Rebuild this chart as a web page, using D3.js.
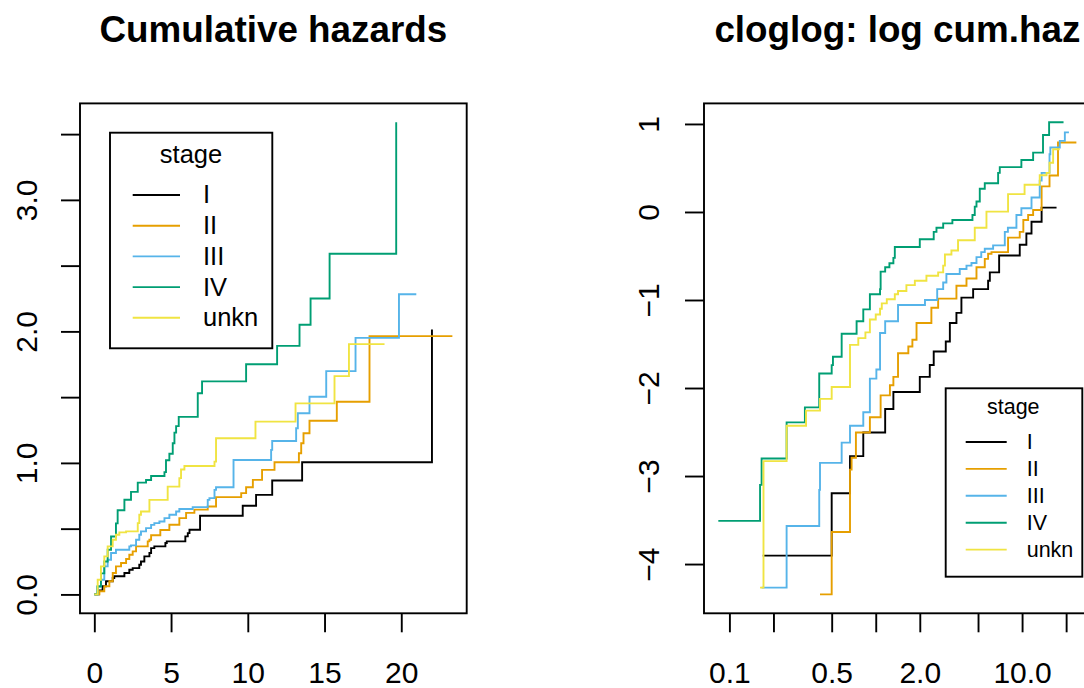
<!DOCTYPE html>
<html>
<head>
<meta charset="utf-8">
<script src="https://cdn.jsdelivr.net/npm/d3@7"></script>
<style>
  body { margin: 0; background: #fff; }
  svg { display: block; font-family: "Liberation Sans", Arial, Helvetica, sans-serif; }
</style>
</head>
<body>
<div id="chart"></div>
<script>
const stages = ["I", "II", "III", "IV", "unkn"];
const stageColors = ["#000000", "#E69F00", "#56B4E9", "#009E73", "#F0E442"];

// left panel: cumulative hazard steps [time, H]
const chI = [[0,0],[0.3,0.03],[0.54,0.062],[0.76,0.10],[1.2,0.125],[1.3,0.138],[1.96,0.163],[2.28,0.188],[2.5,0.20],[2.93,0.226],[3.04,0.25],[3.26,0.289],[3.59,0.315],[3.7,0.352],[3.91,0.365],[4.63,0.391],[4.72,0.403],[5.93,0.441],[6.09,0.466],[6.2,0.492],[6.89,0.598],[9.67,0.674],[10.54,0.757],[11.59,0.866],[13.54,1.005],[22.0,2.014]];
const chII = [[0,0],[0.33,0.024],[0.65,0.062],[0.98,0.10],[1.2,0.163],[1.41,0.213],[1.74,0.239],[2.07,0.269],[2.28,0.302],[2.5,0.327],[2.72,0.365],[3.48,0.403],[3.59,0.416],[3.7,0.45],[4.3,0.49],[4.89,0.53],[5.54,0.58],[5.98,0.62],[6.52,0.645],[7.39,0.669],[7.93,0.74],[9.57,0.77],[9.89,0.815],[10.33,0.871],[10.93,0.947],[11.74,1.005],[13.33,1.073],[13.48,1.149],[13.63,1.225],[14.02,1.321],[15.8,1.465],[17.93,1.964]];
const chIII = [[0,0],[0.22,0.062],[0.43,0.112],[0.65,0.213],[0.87,0.264],[1.09,0.315],[1.41,0.34],[2.28,0.365],[2.39,0.373],[2.72,0.416],[2.93,0.454],[3.04,0.479],[3.37,0.504],[3.7,0.529],[3.91,0.542],[4.24,0.555],[4.57,0.58],[4.89,0.606],[5.33,0.631],[5.54,0.649],[6.41,0.664],[7.39,0.719],[7.5,0.732],[7.83,0.795],[7.93,0.815],[9.07,1.022],[11.52,1.099],[11.59,1.167],[13.15,1.263],[13.26,1.377],[14.02,1.503],[15.11,1.698],[17.02,1.951],[19.85,2.282]];
const chIV = [[0,0],[0.2,0.06],[0.43,0.16],[0.65,0.25],[0.87,0.34],[1.09,0.44],[1.41,0.54],[1.52,0.64],[1.96,0.72],[2.39,0.78],[2.83,0.85],[3.37,0.87],[3.7,0.9],[4.57,0.93],[4.67,1.02],[4.89,1.07],[5.11,1.15],[5.22,1.23],[5.33,1.28],[5.5,1.35],[6.74,1.53],[7.02,1.62],[9.89,1.75],[11.91,1.89],[13.37,2.05],[14.09,2.25],[15.33,2.59],[19.67,3.59]];
const chUnkn = [[0,0],[0.22,0.112],[0.43,0.213],[0.65,0.289],[0.87,0.365],[1.2,0.416],[1.41,0.454],[1.63,0.472],[2.07,0.479],[2.83,0.542],[2.93,0.606],[3.04,0.631],[3.59,0.719],[4.78,0.82],[5.54,0.884],[5.65,0.95],[5.87,0.977],[7.83,1.01],[7.93,1.187],[10.5,1.314],[13.11,1.453],[15.65,1.66],[16.59,1.903]];
const chEnd = [22.0, 23.33, 20.98, 19.67, 18.91];

// right panel: log cumulative hazard steps [time, log H]
const llI = [[0.169,-3.904],[0.50,-3.195],[0.667,-2.774],[0.822,-2.506],[1.16,-2.238],[1.32,-2.046],[2.00,-1.874],[2.34,-1.739],[2.49,-1.586],[3.01,-1.471],[3.21,-1.261],[3.56,-1.146],[3.85,-0.973],[4.63,-0.877],[5.86,-0.782],[6.02,-0.686],[6.97,-0.494],[9.64,-0.372],[10.7,-0.245],[11.6,-0.111],[13.6,0.050]];
const llII = [[0.416,-4.345],[0.50,-3.636],[0.667,-2.927],[0.684,-2.793],[0.732,-2.506],[0.912,-2.333],[1.08,-2.084],[1.25,-1.969],[1.32,-1.874],[1.42,-1.605],[1.67,-1.529],[1.78,-1.452],[1.90,-1.261],[2.40,-1.088],[2.67,-0.985],[3.56,-0.839],[4.17,-0.755],[4.88,-0.628],[5.56,-0.533],[5.86,-0.475],[6.18,-0.456],[8.02,-0.291],[9.64,-0.226],[10.2,-0.092],[11.0,-0.034],[11.9,0.023],[13.6,0.291],[15.4,0.414],[17.6,0.79]];
const llIII = [[0.166,-4.268],[0.246,-3.567],[0.411,-3.157],[0.416,-2.851],[0.585,-2.621],[0.667,-2.429],[0.822,-2.276],[0.912,-1.893],[1.01,-1.789],[1.07,-1.375],[1.16,-1.241],[1.42,-1.057],[2.17,-1.0],[2.63,-0.877],[2.89,-0.801],[3.04,-0.705],[3.75,-0.648],[4.17,-0.609],[4.51,-0.579],[4.88,-0.513],[5.26,-0.456],[5.56,-0.418],[6.34,-0.379],[7.62,-0.226],[8.0,-0.18],[9.15,-0.034],[9.89,0.042],[11.6,0.165],[13.2,0.356],[13.6,0.444],[15.4,0.655],[15.6,0.732],[18.1,0.808],[19.6,0.904]];
const llIV = [[0.084,-3.51],[0.162,-3.10],[0.166,-2.80],[0.246,-2.39],[0.328,-2.22],[0.411,-1.835],[0.50,-1.74],[0.51,-1.644],[0.585,-1.383],[0.74,-1.241],[0.822,-1.107],[0.912,-0.935],[1.07,-0.877],[1.08,-0.678],[1.16,-0.628],[1.24,-0.582],[1.32,-0.521],[1.35,-0.398],[2.00,-0.31],[2.49,-0.226],[2.6,-0.18],[2.89,-0.13],[3.34,-0.092],[4.58,-0.034],[4.75,0.061],[4.88,0.119],[5.14,0.264],[5.56,0.326],[6.86,0.444],[7.04,0.51],[9.89,0.59],[11.9,0.674],[13.9,0.874],[15.3,1.019]];
const llUnkn = [[0.162,-4.268],[0.171,-2.831],[0.246,-2.429],[0.334,-2.257],[0.416,-2.123],[0.50,-1.989],[0.667,-1.51],[0.76,-1.433],[0.85,-1.368],[0.912,-1.222],[1.0,-1.165],[1.07,-1.10],[1.10,-1.038],[1.19,-0.992],[1.35,-0.935],[1.42,-0.897],[1.62,-0.831],[1.85,-0.782],[2.22,-0.724],[2.67,-0.686],[2.89,-0.609],[2.97,-0.483],[3.29,-0.437],[3.65,-0.322],[4.75,-0.18],[5.71,0.004],[8.02,0.203],[10.4,0.31],[13.2,0.418],[14.7,0.444],[15.4,0.559],[16.3,0.713]];
const llEnd = [17.2, 23.5, 20.9, 19.2, 18.1];

const leftXTicks = [0, 5, 10, 15, 20];
const leftYTicks = [0, 0.5, 1, 1.5, 2, 2.5, 3, 3.5];
const leftYLabels = [0, 1, 2, 3];
const rightXTicks = [0.1, 0.2, 0.5, 1, 2, 5, 10, 20];
const rightXLabels = [0.1, 0.5, 2, 10];
const rightYTicks = [-4, -3, -2, -1, 0, 1];

const W = 1084, H = 688;
const lw = 1.9;
const plotTop = 103.4, plotBottom = 613.3;

const svg = d3.select("#chart").append("svg")
    .attr("width", W)
    .attr("height", H);

svg.append("rect").attr("width", W).attr("height", H).attr("fill", "#fff");

// R style 4% padding around data range
function padded(lo, hi) {
    const d = hi - lo;
    return [lo - 0.04 * d, hi + 0.04 * d];
}

function withEnd(steps, end) {
    const last = steps[steps.length - 1];
    return steps.concat([[end, last[1]]]);
}

function drawPanel(opt) {
    const g = svg.append("g");
    const line = d3.line()
        .x(d => opt.x(d[0]))
        .y(d => opt.y(d[1]))
        .curve(d3.curveStepAfter);
    const r = opt.x.range();

    const clip = "clip" + opt.id;
    svg.append("clipPath").attr("id", clip)
        .append("rect")
        .attr("x", r[0]).attr("y", plotTop)
        .attr("width", r[1] - r[0])
        .attr("height", plotBottom - plotTop);

    g.append("g").attr("clip-path", `url(#${clip})`)
        .selectAll("path")
        .data(opt.series)
        .join("path")
        .attr("d", (s, i) => line(withEnd(s, opt.ends[i])))
        .attr("fill", "none")
        .attr("stroke", (s, i) => stageColors[i])
        .attr("stroke-width", lw);

    // box
    g.append("rect")
        .attr("x", r[0]).attr("y", plotTop)
        .attr("width", r[1] - r[0])
        .attr("height", plotBottom - plotTop)
        .attr("fill", "none").attr("stroke", "#000").attr("stroke-width", lw);

    // x axis
    const xa = g.append("g")
        .attr("transform", `translate(0,${plotBottom})`)
        .call(d3.axisBottom(opt.x).tickValues(opt.xTicks).tickSizeOuter(0).tickSize(19)
            .tickFormat(d => opt.xLabels.includes(d) ? opt.xFmt(d) : ""));
    xa.select(".domain").remove();
    xa.selectAll("line").attr("stroke", "#000").attr("stroke-width", lw);
    xa.selectAll("text")
        .attr("y", 70).attr("dy", 0)
        .attr("font-size", 30).attr("font-family", null).attr("fill", "#000");

    // y axis
    const ya = g.append("g")
        .attr("transform", `translate(${r[0]},0)`)
        .call(d3.axisLeft(opt.y).tickValues(opt.yTicks).tickSizeOuter(0).tickSize(19)
            .tickFormat(d => opt.yLabels.includes(d) ? opt.yFmt(d) : ""));
    ya.select(".domain").remove();
    ya.selectAll("line").attr("stroke", "#000").attr("stroke-width", lw);
    ya.selectAll("text")
        .attr("x", 0).attr("dy", 0)
        .attr("transform", `translate(${-opt.yLabOff},0) rotate(-90)`)
        .attr("text-anchor", "middle")
        .attr("font-size", 30).attr("font-family", null).attr("fill", "#000");

    // title
    g.append("text")
        .attr("x", (r[0] + r[1]) / 2).attr("y", 41.7)
        .attr("text-anchor", "middle")
        .attr("font-size", 36.8).attr("font-weight", "bold")
        .text(opt.title);

    // legend
    const L = opt.legend;
    const lg = g.append("g");
    lg.append("rect")
        .attr("x", L.x0).attr("y", L.y0)
        .attr("width", L.x1 - L.x0).attr("height", L.y1 - L.y0)
        .attr("fill", "#fff").attr("stroke", "#000").attr("stroke-width", lw);
    lg.append("text")
        .attr("x", L.titleX).attr("y", L.titleY)
        .attr("text-anchor", "middle").attr("font-size", L.fs)
        .text("stage");
    const items = lg.selectAll("g.item").data(stages).join("g")
        .attr("class", "item")
        .attr("transform", (d, i) => `translate(0,${L.firstY + i * L.step})`);
    items.append("line")
        .attr("x1", L.lx0).attr("x2", L.lx1)
        .attr("stroke", (d, i) => stageColors[i]).attr("stroke-width", lw);
    items.append("text")
        .attr("x", L.tx).attr("y", L.fs * 0.33)
        .attr("font-size", L.fs)
        .text(d => d);
}

const allCh = [chI, chII, chIII, chIV, chUnkn];
const chTmax = d3.max(chEnd);
const chHmax = d3.max(allCh, s => d3.max(s, d => d[1]));
const xLeft = d3.scaleLinear().domain(padded(0, chTmax)).range([80, 466.7]);
const yLeft = d3.scaleLinear().domain(padded(0, chHmax)).range([plotBottom, plotTop]);

const allLl = [llI, llII, llIII, llIV, llUnkn];
const llTmin = d3.min(allLl, s => s[0][0]);
const llTmax = d3.max(llEnd);
const llMin = d3.min(allLl, s => d3.min(s, d => d[1]));
const llMax = d3.max(allLl, s => d3.max(s, d => d[1]));
const lx = padded(Math.log10(llTmin), Math.log10(llTmax));
const xRight = d3.scaleLog().domain([Math.pow(10, lx[0]), Math.pow(10, lx[1])]).range([704, 1090.7]);
const yRight = d3.scaleLinear().domain(padded(llMin, llMax)).range([plotBottom, plotTop]);

drawPanel({
    id: "L", x: xLeft, y: yLeft, series: allCh, ends: chEnd,
    xTicks: leftXTicks, xLabels: leftXTicks, xFmt: d3.format("d"),
    yTicks: leftYTicks, yLabels: leftYLabels, yFmt: d3.format(".1f"), yLabOff: 43,
    title: "Cumulative hazards",
    legend: { x0: 110, y0: 132.7, x1: 272.3, y1: 348.3, titleX: 191, titleY: 163,
              firstY: 195, step: 30.7, lx0: 132.7, lx1: 180, tx: 203, fs: 25.5 }
});

drawPanel({
    id: "R", x: xRight, y: yRight, series: allLl, ends: llEnd,
    xTicks: rightXTicks, xLabels: rightXLabels, xFmt: d3.format(".1f"),
    yTicks: rightYTicks, yLabels: rightYTicks, yFmt: d => d < 0 ? "\u2212" + (-d) : String(d), yLabOff: 45,
    title: "cloglog: log cum.haz",
    legend: { x0: 945.7, y0: 388.3, x1: 1082.3, y1: 576.7, titleX: 1013.3, titleY: 414.3,
              firstY: 442, step: 26.9, lx0: 965.7, lx1: 1006.7, tx: 1026.7, fs: 21.5 }
});
</script>
</body>
</html>
